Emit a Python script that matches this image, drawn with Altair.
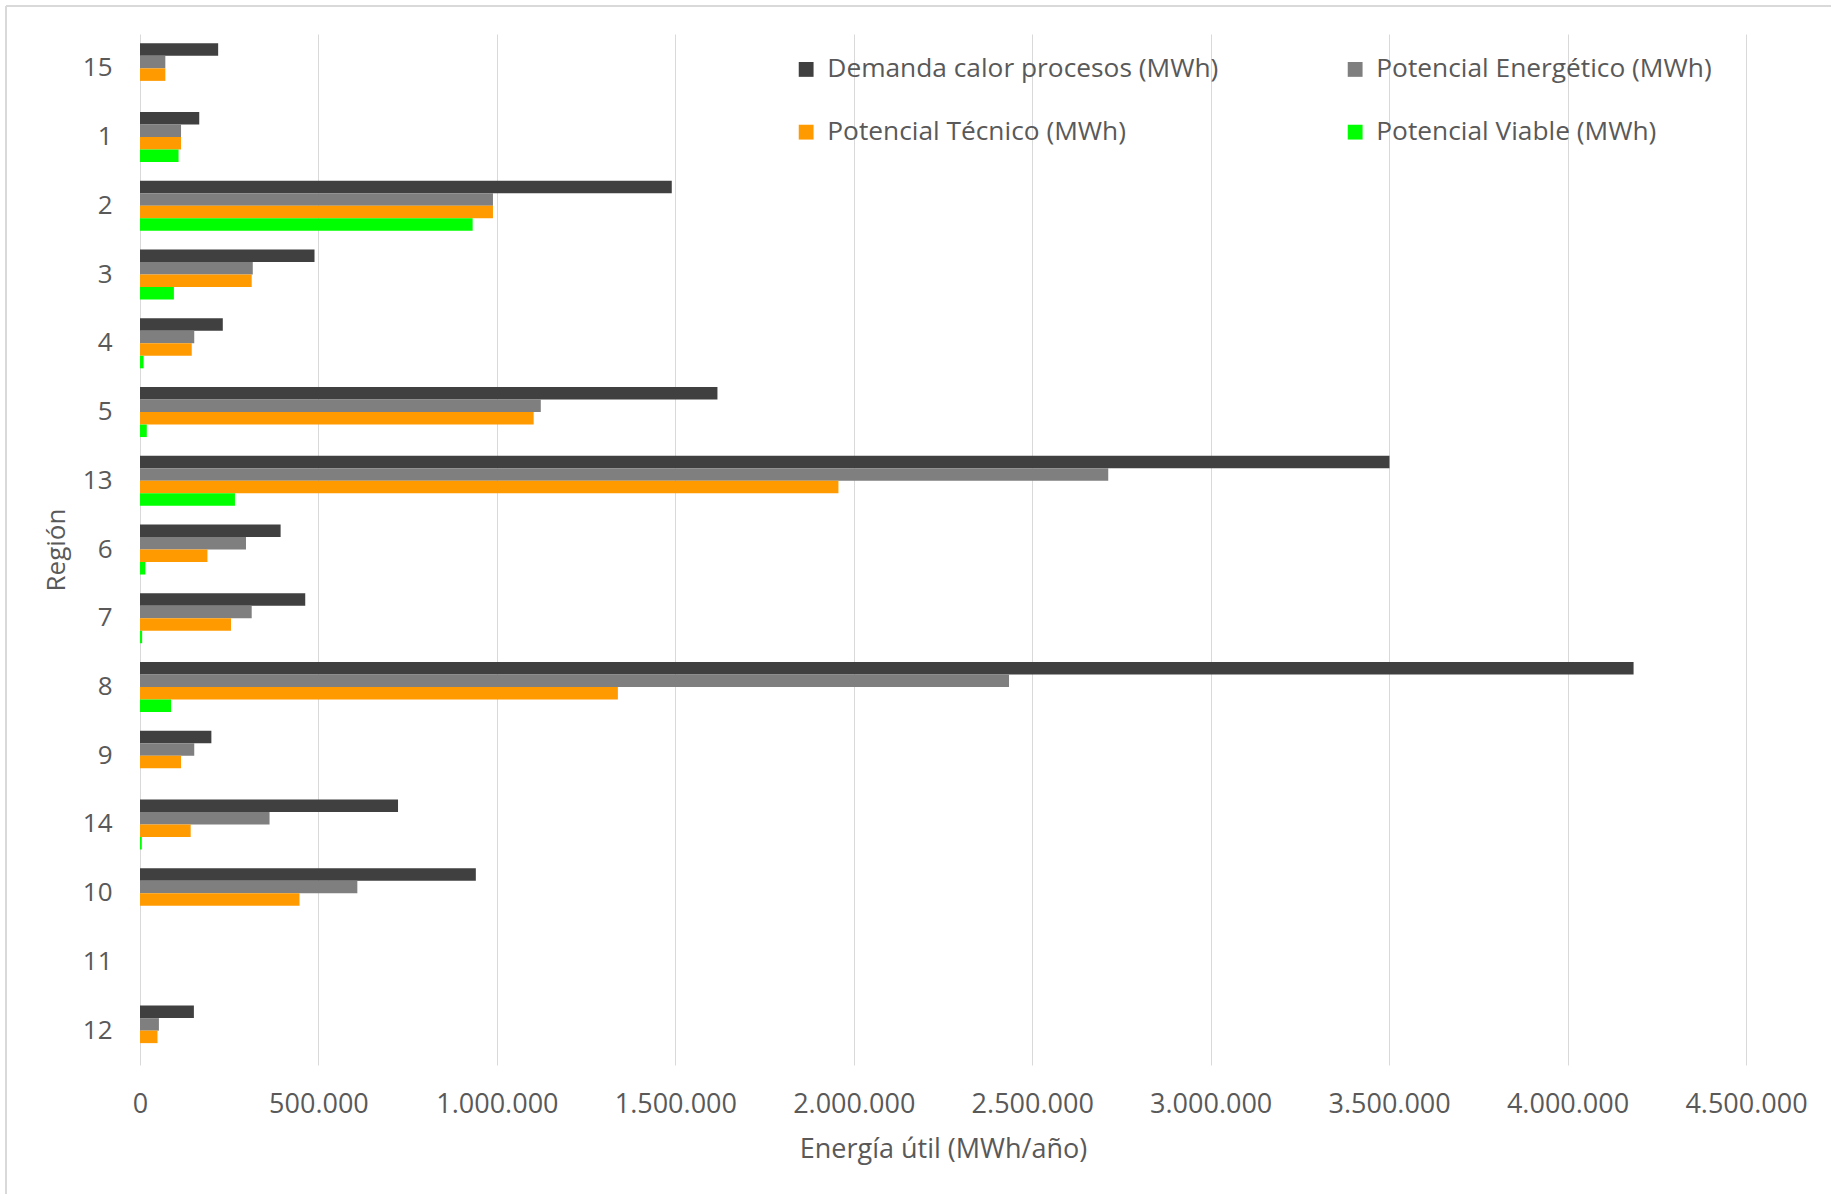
import altair as alt
import pandas as pd

# Regions in display order (top to bottom)
regions = ["15", "1", "2", "3", "4", "5", "13", "6", "7", "8", "9", "14", "10", "11", "12"]

# Useful energy per region (MWh/year)
demanda = [219000, 166000, 1490000, 489000, 232000, 1618000, 3501000, 394000, 463000, 4185000, 200000, 723000, 941000, 0, 151000]
energetico = [71000, 115000, 989000, 316000, 152000, 1123000, 2713000, 297000, 313000, 2435000, 152000, 363000, 609000, 0, 53000]
tecnico = [71000, 115000, 989000, 313000, 145000, 1103000, 1957000, 189000, 255000, 1339000, 115000, 142000, 447000, 0, 49000]
viable = [0, 108000, 932000, 95000, 10000, 19000, 266000, 15000, 6000, 87000, 0, 5000, 0, 0, 0]

series_names = [
    "Demanda calor procesos (MWh)",
    "Potencial Energético (MWh)",
    "Potencial Técnico (MWh)",
    "Potencial Viable (MWh)",
]
series_colors = ["#404040", "#7F7F7F", "#FF9A00", "#00FF00"]

rows = []
for name, values in zip(series_names, [demanda, energetico, tecnico, viable]):
    for region, v in zip(regions, values):
        rows.append({"Región": region, "Serie": name, "Valor": v})
df = pd.DataFrame(rows)

FONT = "Open Sans"
TEXT = "#595959"
W, H = 1606, 1031

bars = alt.Chart(df).mark_bar().encode(
    y=alt.Y(
        "Región:N",
        sort=regions,
        scale=alt.Scale(paddingInner=0.272, paddingOuter=0.136),
        axis=alt.Axis(
            title="Región",
            ticks=False,
            domain=False,
            grid=False,
            labelPadding=28,
            labelFontSize=26,
            titleFontSize=26,
            titlePadding=13,
            titleFontWeight="normal",
        ),
    ),
    yOffset=alt.YOffset("Serie:N", sort=series_names, scale=alt.Scale(paddingInner=0, paddingOuter=0)),
    x=alt.X(
        "Valor:Q",
        scale=alt.Scale(domain=[0, 4500000], nice=False),
        axis=alt.Axis(
            title="Energía útil (MWh/año)",
            values=[0, 500000, 1000000, 1500000, 2000000, 2500000, 3000000, 3500000, 4000000, 4500000],
            labelExpr="replace(format(datum.value, ','), /,/g, '.')",
            labelFlush=False,
            labelOverlap=False,
            ticks=False,
            domain=False,
            grid=True,
            gridColor="#D9D9D9",
            gridWidth=1,
            labelPadding=26,
            labelFontSize=27,
            titleFontSize=27,
            titlePadding=19,
            titleFontWeight="normal",
        ),
    ),
    color=alt.Color(
        "Serie:N",
        sort=series_names,
        scale=alt.Scale(domain=series_names, range=series_colors),
        legend=alt.Legend(
            title=None,
            orient="none",
            direction="horizontal",
            legendX=653,
            legendY=22,
            columns=2,
            columnPadding=123,
            rowPadding=36,
            symbolType="square",
            symbolSize=220,
            symbolStrokeWidth=0,
            labelFontSize=26.3,
            labelOffset=8,
            labelLimit=600,
        ),
    ),
)

# Light frame around the chart
frame_top = alt.Chart(df).mark_rule(color="#D9D9D9", strokeWidth=2).encode(
    x=alt.value(-134), x2=alt.value(1700), y=alt.value(-28)
)
frame_left = alt.Chart(df).mark_rule(color="#D9D9D9", strokeWidth=2).encode(
    x=alt.value(-134), y=alt.value(-28), y2=alt.value(1170)
)

chart = (
    alt.layer(bars, frame_top, frame_left)
    .properties(
        width=W,
        height=H,
        autosize=alt.AutoSizeParams(type="none"),
        padding={"left": 140, "top": 34, "right": 85, "bottom": 129},
    )
    .configure(font=FONT, background="white")
    .configure_view(stroke=None)
    .configure_axis(labelColor=TEXT, titleColor=TEXT, labelFont=FONT, titleFont=FONT)
    .configure_legend(labelColor=TEXT, labelFont=FONT)
)

chart.save("out.html", embed_options={"renderer": "svg", "actions": False})
